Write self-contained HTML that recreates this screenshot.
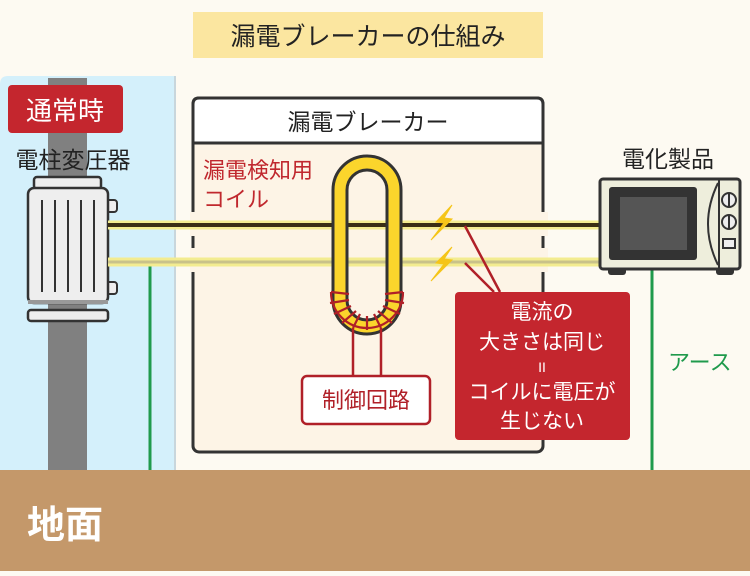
<!DOCTYPE html>
<html><head><meta charset="utf-8"><style>
body{margin:0;width:750px;height:571px;overflow:hidden;background:#fdfaf2;}
svg text{font-family:"Liberation Sans","Noto Sans CJK JP",sans-serif;}
</style></head><body>
<svg width="750" height="571" viewBox="0 0 750 571" xmlns="http://www.w3.org/2000/svg">
<rect x="0" y="0" width="750" height="571" fill="#fdfaf2"/>
<rect x="193" y="12" width="350" height="46" fill="#fbe6a0"/>
<text x="368" y="45" font-size="25" text-anchor="middle" fill="#222">漏電ブレーカーの仕組み</text>
<path d="M0 84 Q0 76 8 76 L175 76 L175 470 L0 470 Z" fill="#d4f0fb"/>
<line x1="175" y1="76" x2="175" y2="470" stroke="#c8d6dc" stroke-width="2"/>
<rect x="48" y="78" width="39" height="392" fill="#808080"/>
<rect x="8" y="85" width="115" height="48" rx="4" fill="#c4262e"/>
<text x="65" y="120" font-size="26" text-anchor="middle" fill="#fff">通常時</text>
<text x="73" y="168" font-size="23" text-anchor="middle" fill="#222">電柱変圧器</text>
<rect x="103" y="200" width="14" height="12" rx="3" fill="#eee" stroke="#333" stroke-width="2"/>
<rect x="103" y="282" width="14" height="12" rx="3" fill="#eee" stroke="#333" stroke-width="2"/>
<rect x="34" y="177" width="67" height="12" rx="3" fill="#eee" stroke="#333" stroke-width="2.5"/>
<rect x="28" y="188" width="80" height="115" rx="6" fill="#eeeeee" stroke="#333" stroke-width="2.5"/>
<g stroke="#333" stroke-width="2"><line x1="42" y1="200" x2="42" y2="292"/><line x1="55" y1="200" x2="55" y2="292"/><line x1="68" y1="200" x2="68" y2="292"/><line x1="81" y1="200" x2="81" y2="292"/><line x1="94" y1="200" x2="94" y2="292"/></g>
<rect x="28" y="300" width="80" height="4" fill="#999"/>
<rect x="28" y="310" width="80" height="11" rx="3" fill="#eee" stroke="#333" stroke-width="2.5"/>
<line x1="150" y1="264" x2="150" y2="470" stroke="#1f9a4c" stroke-width="3"/>
<line x1="652" y1="270" x2="652" y2="470" stroke="#1f9a4c" stroke-width="3"/>
<rect x="193" y="98" width="350" height="354" rx="6" fill="#fdf4e6" stroke="#333" stroke-width="3"/>
<path d="M193 143 L193 104 Q193 98 199 98 L537 98 Q543 98 543 104 L543 143 Z" fill="#fff" stroke="#333" stroke-width="3"/>
<text x="368" y="130" font-size="23" text-anchor="middle" fill="#222">漏電ブレーカー</text>
<rect x="190" y="212" width="8" height="24" fill="#fdf4e6"/>
<rect x="190" y="248" width="8" height="24" fill="#fdf4e6"/>
<rect x="540" y="212" width="8" height="24" fill="#fdf4e6"/>
<rect x="540" y="248" width="8" height="24" fill="#fdf4e6"/>
<text x="203" y="178" font-size="22" fill="#c0282e">漏電検知用</text>
<text x="203" y="207" font-size="22" fill="#c0282e">コイル</text>
<line x1="108" y1="225" x2="602" y2="225" stroke="#f3ec90" stroke-width="9"/>
<line x1="108" y1="225" x2="602" y2="225" stroke="#3a2e14" stroke-width="4"/>
<line x1="108" y1="262" x2="602" y2="262" stroke="#f3ec90" stroke-width="9"/>
<line x1="108" y1="262" x2="602" y2="262" stroke="#c9c28a" stroke-width="3"/>
<path d="M340 300 L340 190 A27 27 0 0 1 394 190 L394 300 A27 27 0 0 1 340 300" fill="none" stroke="#333" stroke-width="17"/>
<path d="M340 300 L340 190 A27 27 0 0 1 394 190 L394 300 A27 27 0 0 1 340 300" fill="none" stroke="#fbd52c" stroke-width="11"/>
<g stroke="#b02028" stroke-width="2.2" fill="none">
<path d="M331 292 L349 294 M330 303 L349 300 M334 314 L351 306 M342 323 L356 311 M353 328 L360 314 M367 330 L367 316 M381 328 L374 314 M392 323 L378 311 M400 314 L383 306 M404 303 L385 300 M403 292 L385 294"/>
<path d="M331 292 A36 36 0 0 0 403 292" />
</g>
<g stroke="#b02028" stroke-width="2.5"><line x1="353" y1="328" x2="353" y2="376"/><line x1="381" y1="328" x2="381" y2="376"/></g>
<rect x="302" y="376" width="128" height="48" rx="5" fill="#fff" stroke="#b02028" stroke-width="2.5"/>
<text x="366" y="408" font-size="22" text-anchor="middle" fill="#b02028">制御回路</text>
<path d="M452 205 L436 222 L444 223 L431 240 L452 219 L444 218 Z" fill="#f5c518" stroke="#f5c518" stroke-width="1"/>
<path d="M452 247 L436 263 L444 264 L431 281 L452 260 L444 259 Z" fill="#f5c518" stroke="#f5c518" stroke-width="1"/>
<g stroke="#b02028" stroke-width="2.5"><line x1="465" y1="226" x2="500" y2="292"/><line x1="465" y1="263" x2="494" y2="292"/></g>
<rect x="455" y="292" width="175" height="148" rx="4" fill="#c4262e"/>
<g font-size="21" fill="#fff" text-anchor="middle">
<text x="542" y="319">電流の</text>
<text x="542" y="349">大きさは同じ</text>
<text x="542" y="372" font-size="14">II</text>
<text x="542" y="399">コイルに電圧が</text>
<text x="542" y="428">生じない</text>
</g>
<text x="668" y="167" font-size="23" text-anchor="middle" fill="#222">電化製品</text>
<rect x="608" y="266" width="18" height="9" rx="3" fill="#333"/>
<rect x="716" y="266" width="18" height="9" rx="3" fill="#333"/>
<rect x="600" y="179" width="140" height="90" rx="3" fill="#eeeedc" stroke="#333" stroke-width="3"/>
<rect x="609" y="187" width="88" height="73" rx="3" fill="#333"/>
<rect x="620" y="197" width="67" height="53" fill="#555"/>
<path d="M718 183 Q698 224 718 265" fill="none" stroke="#333" stroke-width="2"/>
<line x1="719" y1="180" x2="719" y2="268" stroke="#333" stroke-width="2"/>
<circle cx="729" cy="200" r="7" fill="#eee" stroke="#333" stroke-width="2"/><line x1="729" y1="193" x2="729" y2="207" stroke="#333" stroke-width="2"/>
<circle cx="729" cy="222" r="7" fill="#eee" stroke="#333" stroke-width="2"/><line x1="729" y1="215" x2="729" y2="229" stroke="#333" stroke-width="2"/>
<rect x="723" y="239" width="12" height="9" fill="#eee" stroke="#333" stroke-width="2"/>
<text x="668" y="370" font-size="22" fill="#1f9a4c">アース</text>
<rect x="0" y="470" width="750" height="101" fill="#c4986a"/>
<text x="27" y="538" font-size="38" fill="#fff" font-weight="bold">地面</text>
</svg>
</body></html>
